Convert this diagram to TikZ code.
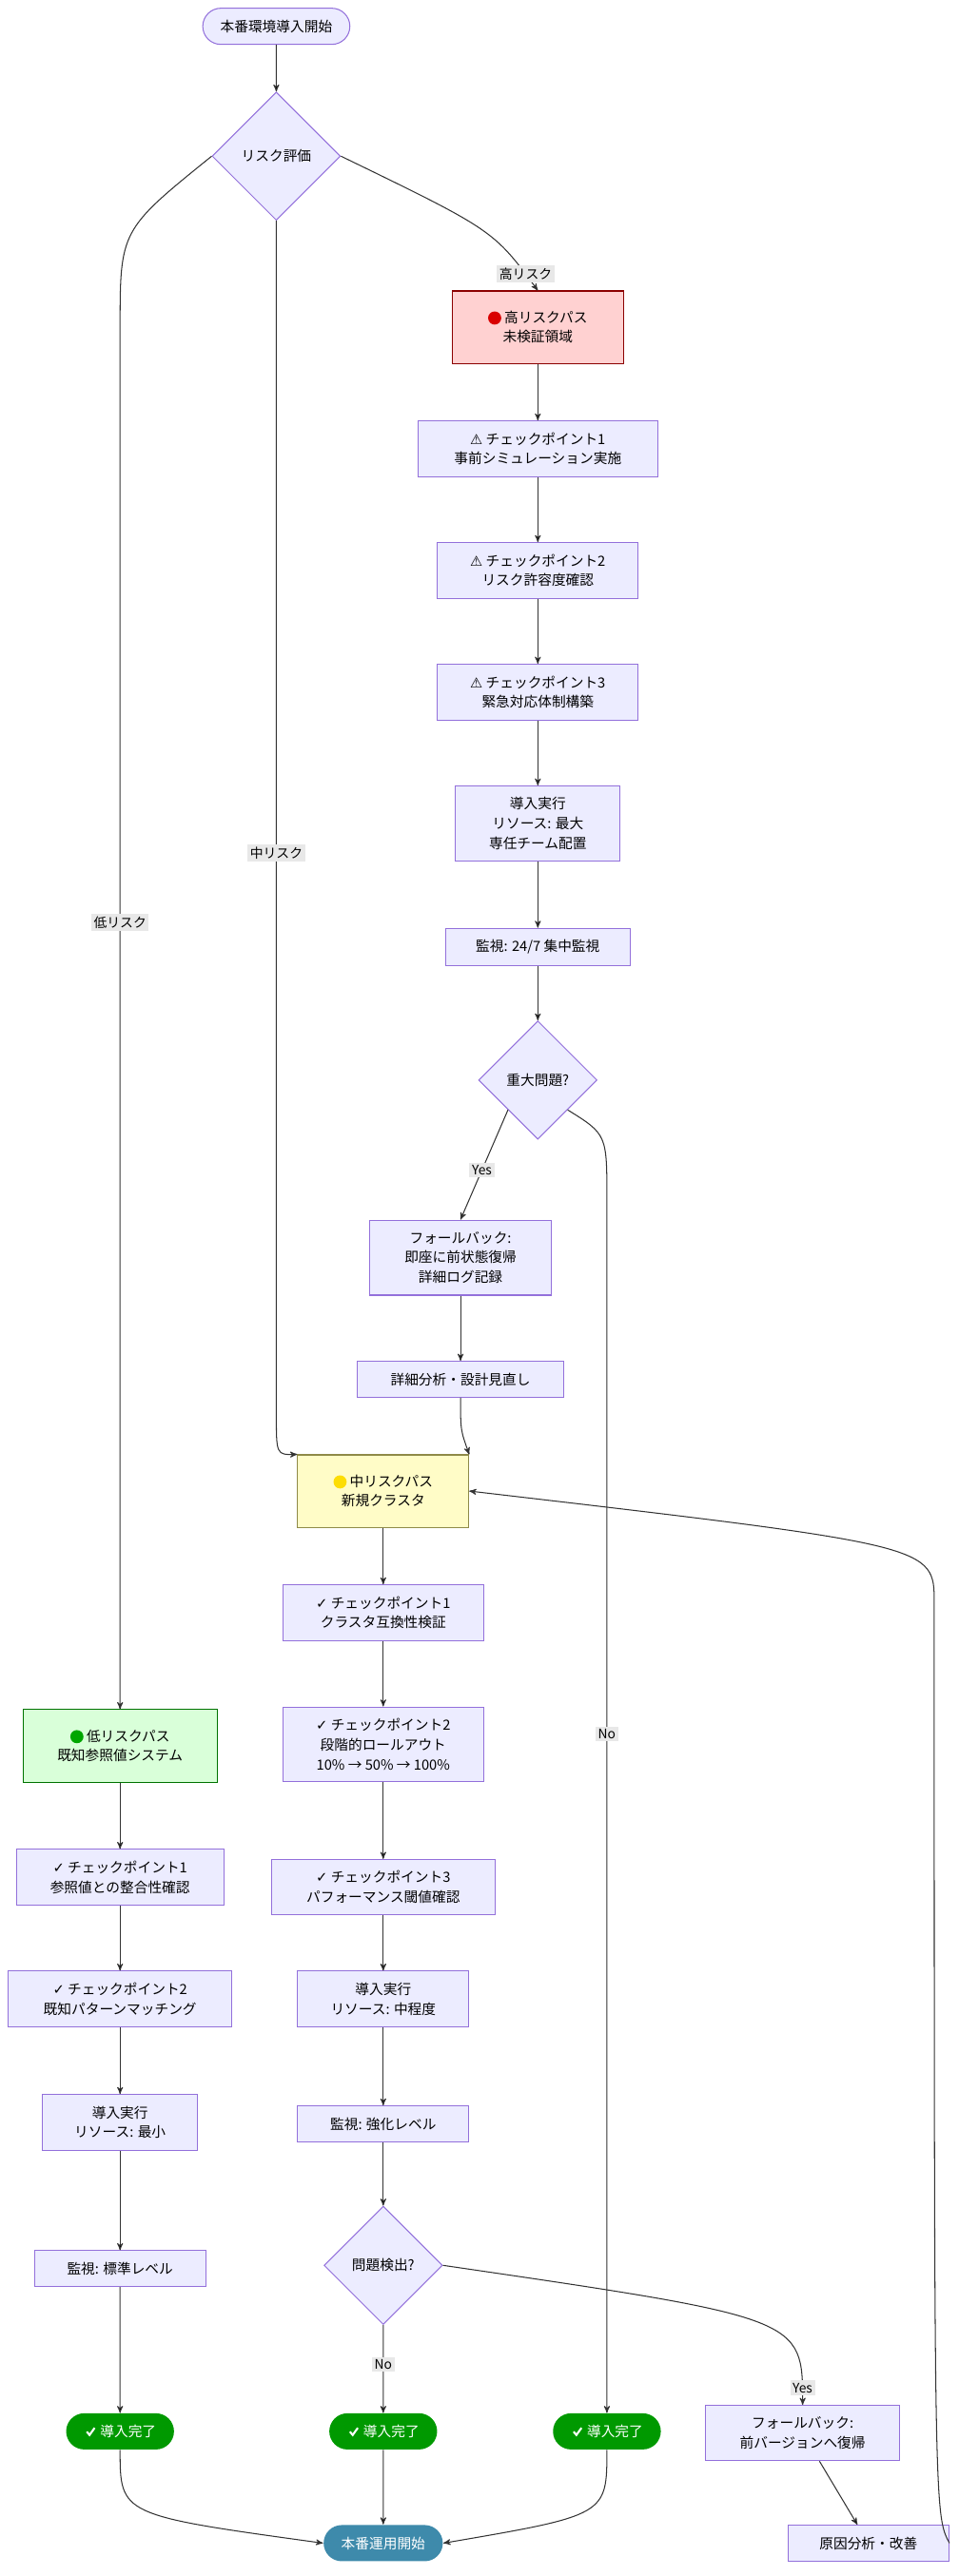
\documentclass[tikz,border=0pt]{standalone}
\usepackage{fontspec}
\setmainfont{Noto Sans CJK JP}
\newfontfamily\symfont{DejaVu Sans}
\usetikzlibrary{arrows,shapes.geometric,shapes.misc,positioning}
\definecolor{boxfill}{HTML}{ECECFF}
\definecolor{boxline}{HTML}{9370DB}
\definecolor{edgecol}{HTML}{333333}
\definecolor{lblbg}{HTML}{E8E8E8}
\newcommand{\reddot}{\tikz[baseline=-0.6ex]\fill[red!85!black] (0,0) circle (4pt);}
\newcommand{\yellowdot}{\tikz[baseline=-0.6ex]\fill[yellow!80!orange] (0,0) circle (4pt);}
\newcommand{\greendot}{\tikz[baseline=-0.6ex]\fill[green!65!black] (0,0) circle (4pt);}
\newcommand{\donemark}{\tikz[baseline=-0.6ex]{\fill[green!60!black,rounded corners=1pt] (-4pt,-4pt) rectangle (4pt,4pt);
  \draw[white,line width=1.2pt] (-2.3pt,0pt) -- (-0.6pt,-2pt) -- (2.5pt,2.3pt);}}
\newcommand{\warn}{{\symfont ⚠}}
\newcommand{\tick}{{\symfont ✓}}

\begin{document}
\begin{tikzpicture}[x=1pt,y=-1pt,>=stealth',thick,
    every node/.style={font=\fontsize{8.5}{12}\selectfont},
    main node/.style={rectangle,draw=boxline,fill=boxfill,line width=0.6pt,align=center,inner xsep=12pt,inner ysep=7pt},
    decision/.style={diamond,draw=boxline,fill=boxfill,line width=0.6pt,aspect=1,inner sep=3pt,minimum size=72pt},
    pill/.style={rounded rectangle,draw=boxline,fill=boxfill,line width=0.6pt,minimum height=22pt,inner xsep=10pt},
    done/.style={rounded rectangle,fill=green!60!black,text=white,minimum height=22pt,inner xsep=10pt},
    edgelabel/.style={fill=lblbg,inner sep=1.5pt,font=\fontsize{8}{10}\selectfont},
    edge style/.style={->,draw=edgecol,line width=0.6pt}]
  \useasboundingbox (0,0) rectangle (583,1567);

  % high risk branch
  \node[pill] (start) at (168,16) {本番環境導入開始};
  \node[decision,minimum size=78pt] (risk) at (168,95) {リスク評価};
  \node[main node,fill=red!18,draw=red!55!black,minimum width=104pt,minimum height=44pt] (high) at (327,199) {\reddot\ 高リスクパス\\未検証領域};
  \node[main node,minimum width=146pt] (hcp1) at (327,273) {\warn\ チェックポイント1\\事前シミュレーション実施};
  \node[main node,minimum width=122pt] (hcp2) at (327,347) {\warn\ チェックポイント2\\リスク許容度確認};
  \node[main node,minimum width=122pt] (hcp3) at (327,421) {\warn\ チェックポイント3\\緊急対応体制構築};
  \node[main node,minimum width=100pt] (hexec) at (327,501) {導入実行\\リソース: 最大\\専任チーム配置};
  \node[main node,minimum width=112pt] (hmon) at (327,576) {監視: 24/7 集中監視};
  \node[decision] (hq) at (327,657) {重大問題?};
  \node[main node,minimum width=110pt] (hfall) at (280,765) {フォールバック:\\即座に前状態復帰\\詳細ログ記録};
  \node[main node,minimum width=126pt] (hana) at (280,839) {詳細分析・設計見直し};

  % mid risk branch
  \node[main node,fill=yellow!22,draw=yellow!50!black,minimum width=104pt,minimum height=44pt] (mid) at (233,907) {\yellowdot\ 中リスクパス\\新規クラスタ};
  \node[main node,minimum width=122pt] (mcp1) at (233,981) {\tick\ チェックポイント1\\クラスタ互換性検証};
  \node[main node,minimum width=122pt] (mcp2) at (233,1061) {\tick\ チェックポイント2\\段階的ロールアウト\\10\% → 50\% → 100\%};
  \node[main node,minimum width=136pt] (mcp3) at (233,1148) {\tick\ チェックポイント3\\パフォーマンス閾値確認};
  \node[main node,minimum width=104pt] (mexec) at (233,1216) {導入実行\\リソース: 中程度};
  \node[main node,minimum width=104pt] (mmon) at (233,1292) {監視: 強化レベル};
  \node[decision] (mq) at (233,1378) {問題検出?};
  \node[main node,minimum width=118pt] (mfall) at (488,1480) {フォールバック:\\前バージョンへ復帰};
  \node[main node,minimum width=98pt] (mcause) at (528,1547) {原因分析・改善};

  % low risk branch
  \node[main node,fill=green!15,draw=green!45!black,minimum width=118pt,minimum height=44pt] (low) at (73,1062) {\greendot\ 低リスクパス\\既知参照値システム};
  \node[main node,minimum width=126pt] (lcp1) at (73,1142) {\tick\ チェックポイント1\\参照値との整合性確認};
  \node[main node,minimum width=136pt] (lcp2) at (73,1216) {\tick\ チェックポイント2\\既知パターンマッチング};
  \node[main node,minimum width=94pt] (lexec) at (73,1291) {導入実行\\リソース: 最小};
  \node[main node,minimum width=104pt] (lmon) at (73,1380) {監視: 標準レベル};

  % end states
  \node[done] (ldone) at (73,1479) {\donemark\ 導入完了};
  \node[done] (mdone) at (233,1479) {\donemark\ 導入完了};
  \node[done] (hdone) at (369,1479) {\donemark\ 導入完了};
  \node[rounded rectangle,fill=cyan!65!black,text=white,minimum height=22pt,inner xsep=10pt] (finish) at (233,1547) {本番運用開始};

  \coordinate (lowturn) at (73,200);
  \coordinate (midturn) at (168,860);
  \coordinate (noturn) at (369,730);
  \coordinate (backturn) at (568,975);

  \path[edge style]
    (start) edge (risk)
    (high) edge (hcp1)
    (hcp1) edge (hcp2)
    (hcp2) edge (hcp3)
    (hcp3) edge (hexec)
    (hexec) edge (hmon)
    (hmon) edge (hq)
    (hfall) edge (hana)
    (mid) edge (mcp1)
    (mcp1) edge (mcp2)
    (mcp2) edge (mcp3)
    (mcp3) edge (mexec)
    (mexec) edge (mmon)
    (mmon) edge (mq)
    (mfall) edge (mcause)
    (low) edge (lcp1)
    (lcp1) edge (lcp2)
    (lcp2) edge (lexec)
    (lexec) edge (lmon)
    (lmon) edge (ldone)
    (mdone) edge (finish)
    (mq) edge node[edgelabel,pos=0.45] {No} (mdone);

  \draw[edge style] (risk.west) .. controls (73,140) .. (lowturn) -- node[edgelabel,pos=0.43] {低リスク} (low);
  \draw[edge style] (risk.south) -- node[edgelabel,pos=0.53] {中リスク} (midturn) .. controls (168,885) .. (mid.north west);
  \draw[edge style] (risk.east) .. controls (300,140) .. node[edgelabel,pos=0.9] {高リスク} (high.north);
  \draw[edge style] (hq.south west) -- node[edgelabel,pos=0.55] {Yes} (hfall.north);
  \draw[edge style] (hq.south east) .. controls (369,690) .. (noturn) -- node[edgelabel,pos=0.44] {No} (hdone);
  \draw[edge style] (hana.south) .. controls (280,870) .. (mid.north east);
  \draw[edge style] (mq.east) .. controls (488,1410) .. node[edgelabel,pos=0.93] {Yes} (mfall.north);
  \draw[edge style] (mcause.east) .. controls (568,1530) .. (backturn) .. controls (568,940) .. (mid.east);
  \draw[edge style] (ldone.south) .. controls (73,1530) .. (finish.west);
  \draw[edge style] (hdone.south) .. controls (369,1530) .. (finish.east);
\end{tikzpicture}
\end{document}
